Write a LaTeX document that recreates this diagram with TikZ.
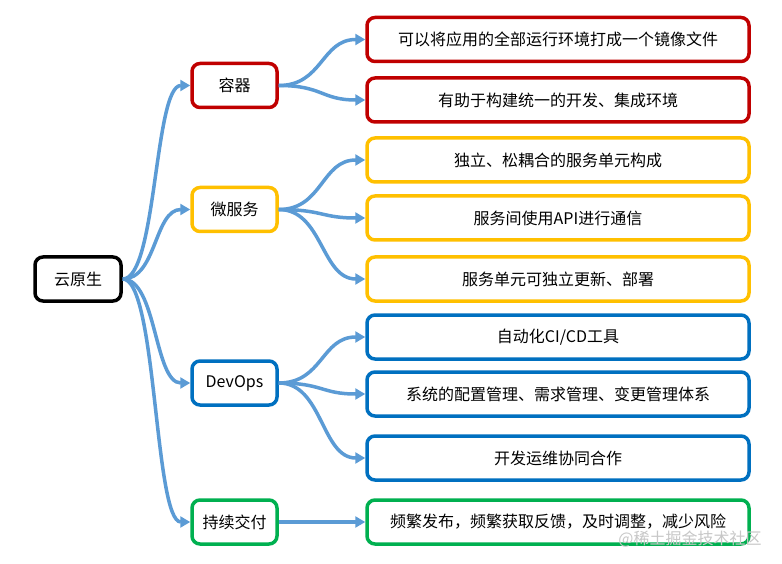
\documentclass[tikz,border=0pt]{standalone}
\usepackage{fontspec}
\setmainfont{Noto Sans CJK SC}
\usetikzlibrary{arrows.meta}
\definecolor{cred}{HTML}{C00000}
\definecolor{cyel}{HTML}{FFC000}
\definecolor{cblue}{HTML}{0070C0}
\definecolor{cgreen}{HTML}{00B050}
\definecolor{carrow}{HTML}{5B9BD5}
\begin{document}
\begin{tikzpicture}[x=1pt,y=-1pt,
  box/.style={draw, line width=3.5pt, rounded corners=8pt, minimum height=44pt, inner sep=0pt, fill=white, text=black, font=\fontsize{16}{19}\selectfont},
  rootbox/.style={box, draw=black, minimum width=86pt},
  cat/.style={box, minimum width=85pt},
  leaf/.style={box, minimum width=382pt},
  arr/.style={draw=carrow, line width=3.5pt, -{Triangle[length=10pt,width=11pt]}}]
\path[use as bounding box, fill=white] (0,0) rectangle (782,564);

\node[rootbox] (root) at (78,279) {云原生};

\node[cat, draw=cred]   (c1) at (234.5,85.5) {容器};
\node[cat, draw=cyel]   (c2) at (234.5,209.5) {微服务};
\node[cat, draw=cblue]  (c3) at (234.5,383) {DevOps};
\node[cat, draw=cgreen] (c4) at (234.5,522) {持续交付};

\node[leaf, draw=cred]   (l1) at (558,39.5) {可以将应用的全部运行环境打成一个镜像文件};
\node[leaf, draw=cred]   (l2) at (558,100) {有助于构建统一的开发、集成环境};
\node[leaf, draw=cyel]   (l3) at (558,160) {独立、松耦合的服务单元构成};
\node[leaf, draw=cyel]   (l4) at (558,218) {服务间使用API进行通信};
\node[leaf, draw=cyel]   (l5) at (558,279) {服务单元可独立更新、部署};
\node[leaf, draw=cblue]  (l6) at (558,337) {自动化CI/CD工具};
\node[leaf, draw=cblue]  (l7) at (558,394) {系统的配置管理、需求管理、变更管理体系};
\node[leaf, draw=cblue]  (l8) at (558,458) {开发运维协同合作};
\node[leaf, draw=cgreen] (l9) at (558,522) {频繁发布，频繁获取反馈，及时调整，减少风险};

\foreach \c in {c1,c2,c3,c4}
  \draw[arr] (root.east) .. controls +(34,0) and +(-36,0) .. (\c.west);

\foreach \c/\l in {c1/l1,c1/l2,c2/l3,c2/l4,c2/l5,c3/l6,c3/l7,c3/l8}
  \draw[arr] (\c.east) .. controls +(44,0) and +(-44,0) .. (\l.west);

\draw[arr] (c4.east) -- (l9.west);

\node[text=black!22, font=\fontsize{16}{18}\selectfont] (wm) at (690,539) {@稀土掘金技术社区};
\end{tikzpicture}
\end{document}
